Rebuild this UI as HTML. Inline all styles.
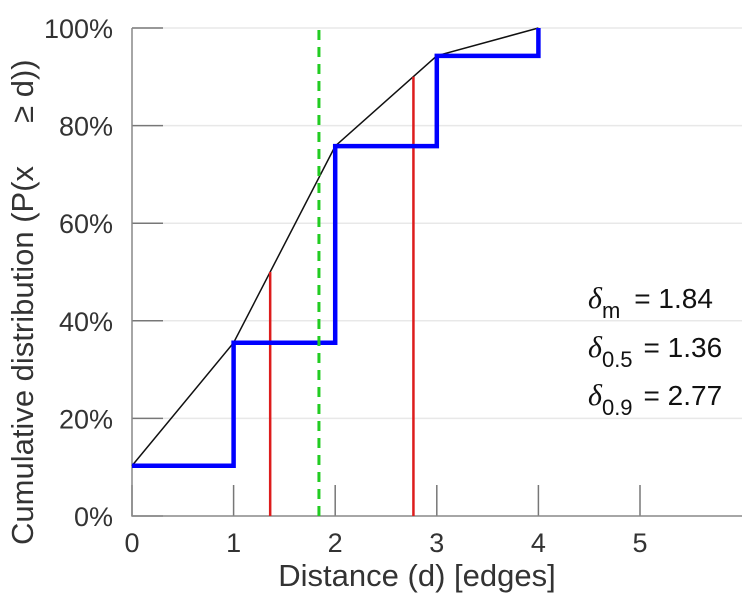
<!DOCTYPE html>
<html><head><meta charset="utf-8"><style>
body{margin:0;background:#fff}
svg{display:block;font-family:"Liberation Sans",sans-serif}
</style></head><body>
<svg id="chart" width="749" height="600" viewBox="0 0 749 600">
<g id="grid"></g>
<g id="axes"></g>
<g id="marks"></g>
<text x="417" y="586" font-size="31" fill="#333" text-anchor="middle">Distance (d) [edges]</text>
<text transform="translate(33,545) rotate(-90)" font-size="31" fill="#333" text-anchor="start" style="white-space:pre" xml:space="preserve">Cumulative distribution (P(x     ≥ d))</text>
<g font-size="28" fill="#111">
<text x="588" y="308"><tspan font-family="Liberation Serif" font-style="italic" font-size="30">δ</tspan><tspan font-size="22" dy="10">m</tspan><tspan dy="-10" dx="14">= 1.84</tspan></text>
<text x="588" y="357"><tspan font-family="Liberation Serif" font-style="italic" font-size="30">δ</tspan><tspan font-size="22" dy="10">0.5</tspan><tspan dy="-10" dx="11">= 1.36</tspan></text>
<text x="588" y="405"><tspan font-family="Liberation Serif" font-style="italic" font-size="30">δ</tspan><tspan font-size="22" dy="10">0.9</tspan><tspan dy="-10" dx="11">= 2.77</tspan></text>
</g>
</svg>
<script>
const distances=[0,1,2,3,4];
const cumulative=[10.3,35.5,75.8,94.3,100];
const quantileX=[1.36,2.77];
const quantileY=[50,90];
const meanX=1.84;
const xTicks=[0,1,2,3,4,5];
const yTicks=[0,20,40,60,80,100];
const yTickLabels=['0%','20%','40%','60%','80%','100%'];
const NS='http://www.w3.org/2000/svg';
const X=v=>132+v*101.6;
const Y=v=>516-v*4.88;
function mk(parent,tag,attrs){const e=document.createElementNS(NS,tag);for(const k in attrs)e.setAttribute(k,attrs[k]);document.getElementById(parent).appendChild(e);return e;}
yTicks.forEach((t,i)=>{
 if(t>0){const g=mk('grid','line',{x1:163,x2:742,y1:Y(t),y2:Y(t),stroke:'#e8e8e8','stroke-width':1.5});
 
 }
 const tk=mk('axes','line',{x1:132,x2:163,y1:Y(t),y2:Y(t),stroke:'#777','stroke-width':1.5});
 
 
 const lb=mk('axes','text',{x:113,y:Y(t)+10,'font-size':27,fill:'#333','text-anchor':'end'});
 lb.textContent=yTickLabels[i];
 
 
});
xTicks.forEach(t=>{
 const tk=mk('axes','line',{x1:X(t),x2:X(t),y1:516,y2:485,stroke:'#777','stroke-width':1.5});
 
 
 const lb=mk('axes','text',{x:X(t),y:552,'font-size':27,fill:'#333','text-anchor':'middle'});
 lb.textContent=String(t);
 
 
});
const ax=mk('axes','path',{d:`M132,${Y(100)} L132,516 L742,516`,stroke:'#888','stroke-width':1.5,fill:'none'});


const lp=mk('marks','polyline',{points:distances.map((d,i)=>X(d)+','+Y(cumulative[i])).join(' '),stroke:'#111','stroke-width':1.5,fill:'none'});


quantileX.forEach((q,i)=>{
 const r=mk('marks','line',{x1:X(q),x2:X(q),y1:516,y2:Y(quantileY[i]),stroke:'#dd1c1c','stroke-width':2.5});
 
 
});
let d=`M${X(distances[0])},${Y(cumulative[0])}`;
for(let i=1;i<distances.length;i++){d+=` L${X(distances[i])},${Y(cumulative[i-1])} L${X(distances[i])},${Y(cumulative[i])}`;}
const st=mk('marks','path',{d:d,stroke:'#0000ff','stroke-width':4.5,fill:'none'});


const m=mk('marks','line',{x1:X(meanX),x2:X(meanX),y1:516,y2:Y(100),stroke:'#22cc22','stroke-width':3,'stroke-dasharray':'10,7'});


</script>
</body></html>
